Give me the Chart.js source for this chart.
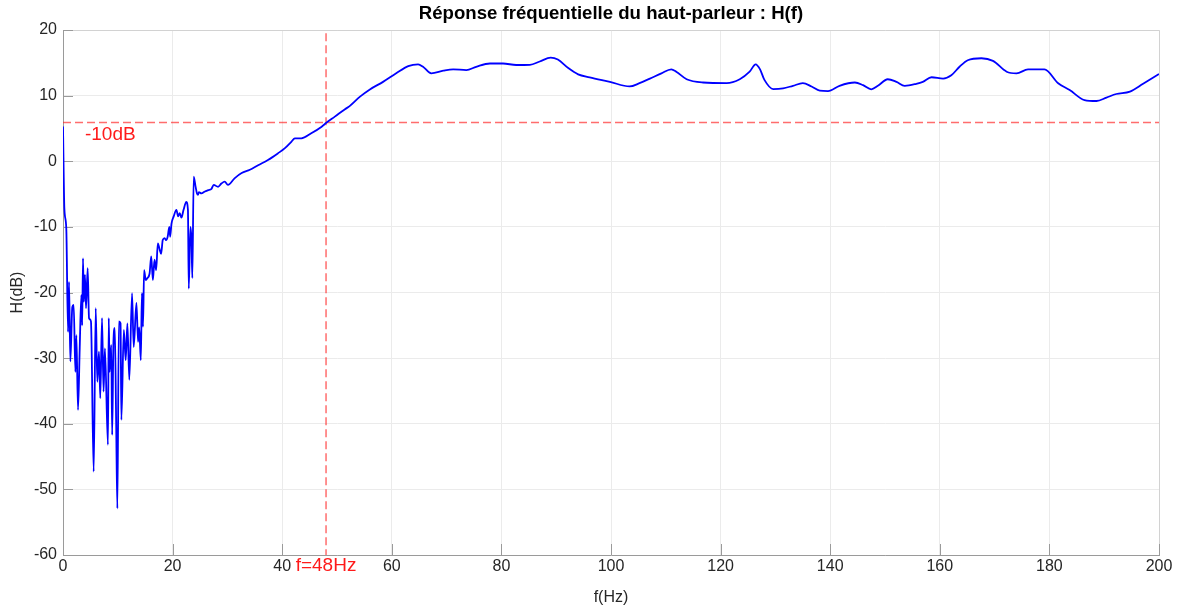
<!DOCTYPE html>
<html lang="fr">
<head>
<meta charset="utf-8">
<title>Réponse fréquentielle</title>
<script src="https://cdn.jsdelivr.net/npm/chart.js@4.4.1/dist/chart.umd.min.js"></script>
<style>
  html, body { margin: 0; padding: 0; background: #fff; }
  #wrap { width: 1183px; height: 612px; }
</style>
</head>
<body>
<div id="wrap"><canvas id="hfChart" width="1183" height="612"></canvas></div>
<script>
// fréquences mesurées (Hz)
const freq = [
  0, 0.25, 0.6, 0.92, 1.1, 1.34, 1.7, 1.95, 2.26, 2.44, 2.74, 3.05, 3.35, 3.5, 3.65, 3.8,
  4.0, 4.2, 4.5, 4.75, 5.1, 5.6, 5.97, 6.26, 6.57, 6.8, 7.12, 7.4, 7.65, 8.2, 8.35, 8.5,
  8.8, 8.97, 9.2, 9.45, 9.7, 9.92, 10.2, 10.5, 10.65, 11.1, 11.44, 11.75, 12.1, 12.6, 12.9,
  13.4, 13.7, 13.9, 14.2, 14.4, 14.6, 14.8, 15.1, 15.4, 15.8, 16.1, 16.4, 16.7, 17.0, 17.3,
  17.65, 17.9, 18.2, 18.55, 18.8, 19.1, 19.4, 19.55, 19.8, 20.2, 20.7, 21.0, 21.3, 21.6,
  22.0, 22.5, 22.8, 22.95, 23.25, 23.45, 23.6, 23.85, 24.2, 24.45, 24.65, 24.8, 25.25,
  25.9, 26.5, 27.1, 27.5, 28.3, 28.9, 29.5, 30.1, 31.3, 32.6, 34.1, 35.6, 37.4, 39.2,
  40.5, 41.7, 42.3, 43.5, 45.3, 47.2, 48.1, 49.6, 51.4, 52.3, 54.2, 56.0, 58.4, 60.8,
  63.0, 64.8, 65.7, 67.2, 69.4, 71.2, 73.6, 75.4, 77.9, 80.3, 82.7, 85.2, 87.0, 89.0,
  90.3, 92.2, 94.0, 96.1, 99.8, 103.4, 105.2, 107.1, 109.2, 111.0, 111.9, 113.8, 116.8,
  121.1, 123.5, 125.3, 126.4, 127.2, 128.0, 129.6, 131.4, 133.2, 135.0, 136.6, 138.1,
  139.6, 141.7, 144.5, 146.0, 147.5, 148.7, 150.5, 152.1, 153.6, 155.7, 156.9, 158.5,
  160.6, 162.1, 163.6, 165.1, 167.6, 169.7, 172.2, 174.0, 176.1, 179.1, 181.6, 183.7,
  186.4, 188.6, 190.4, 192.2, 194.7, 197.1, 200
];

// gain H(f) en dB
const gain = [
  5.3, -7.2, -10.2, -26.0, -18.4, -30.5, -22.2, -21.9, -32.1, -26.5, -37.9, -28.5, -20.4, -25.0, -14.8, -21.4,
  -17.3, -22.4, -16.3, -23.9, -24.4, -47.3, -22.4, -33.6, -29.0, -36.1, -23.9, -35.1, -28.5, -43.2, -23.9, -32.1,
  -28.0, -41.7, -27.7, -25.4, -39.7, -52.9, -24.4, -24.7, -39.4, -25.7, -30.3, -24.7, -33.3, -20.1, -28.3,
  -21.6, -27.5, -25.3, -30.3, -20.1, -25.2, -16.6, -18.1, -17.8, -17.1, -14.5, -18.1, -15.0, -16.6, -12.5,
  -13.5, -14.1, -12.0, -11.7, -12.0, -11.5, -10.0, -11.5, -9.5, -8.4, -7.4, -8.4, -7.9, -8.6,
  -7.4, -6.2, -7.4, -19.4, -10.0, -12.0, -17.8, -2.35, -3.9, -4.9, -5.1, -4.7, -4.9,
  -4.6, -4.4, -4.2, -3.6, -3.9, -3.4, -3.1, -3.6, -2.6, -1.8, -1.3, -0.6, 0.2, 1.2,
  2.0, 3.0, 3.5, 3.5, 4.26, 5.27, 5.9, 6.8, 7.9, 8.4, 9.85, 10.95, 12.1, 13.4,
  14.5, 14.77, 14.4, 13.4, 13.8, 14.0, 13.9, 14.4, 14.9, 14.9, 14.67, 14.7, 15.2, 15.8,
  15.5, 14.2, 13.25, 12.8, 12.1, 11.4, 11.9, 12.6, 13.4, 14.0, 13.65, 12.5, 12.0,
  11.9, 12.5, 13.65, 14.77, 14.0, 12.4, 11.0, 11.1, 11.5, 11.9, 11.4, 10.76,
  10.7, 11.5, 12.0, 11.6, 10.96, 11.5, 12.5, 12.1, 11.5, 11.8, 12.1, 12.8,
  12.6, 13.1, 14.4, 15.4, 15.7, 15.3, 13.65, 13.4, 14.0, 14.0, 11.9, 10.86,
  9.33, 9.18, 9.7, 10.25, 10.6, 11.8, 13.3
];

// fréquence de coupure et niveau à -10 dB du maximum
const cutoffFreq = 48;
const cutoffLevel = 5.9;
const cutoffLabels = ['-10dB', 'f=48Hz'];

const xTicks = [0, 20, 40, 60, 80, 100, 120, 140, 160, 180, 200];
const yTicks = [-60, -50, -40, -30, -20, -10, 0, 10, 20];

const textColor = '#262626';
const fontFamily = '"Liberation Sans", Arial, Helvetica, sans-serif';

// ticks intérieurs façon MATLAB + cadre de l'axe
const axesBox = {
  id: 'axesBox',
  beforeDatasetsDraw(chart) {
    const { ctx, chartArea: a, scales: { x, y } } = chart;
    ctx.save();
    ctx.strokeStyle = '#d2d2d2';
    ctx.lineWidth = 1;
    ctx.beginPath();
    ctx.moveTo(a.left, a.top + 0.5);
    ctx.lineTo(a.right + 0.5, a.top + 0.5);
    ctx.lineTo(a.right + 0.5, a.bottom);
    ctx.stroke();

    ctx.strokeStyle = '#9a9a9a';
    ctx.beginPath();
    yTicks.forEach(v => {
      const py = Math.round(y.getPixelForValue(v)) + 0.5;
      ctx.moveTo(a.left, py);
      ctx.lineTo(a.left + 10, py);
    });
    xTicks.forEach(v => {
      const px = Math.round(x.getPixelForValue(v)) + 0.5;
      ctx.moveTo(px, a.bottom);
      ctx.lineTo(px, a.bottom - 11);
    });
    ctx.stroke();
    ctx.restore();
  },
  afterDatasetsDraw(chart) {
    const { ctx, scales: { x, y } } = chart;
    ctx.save();
    ctx.fillStyle = '#ff1a1a';
    ctx.font = '19px ' + fontFamily;
    ctx.textBaseline = 'middle';
    ctx.textAlign = 'left';
    ctx.fillText(cutoffLabels[0], x.getPixelForValue(4), y.getPixelForValue(cutoffLevel) + 12);
    ctx.textAlign = 'center';
    ctx.fillText(cutoffLabels[1], x.getPixelForValue(cutoffFreq), y.getPixelForValue(-60) + 11);
    ctx.restore();
  }
};

const ctx = document.getElementById('hfChart').getContext('2d');

new Chart(ctx, {
  type: 'line',
  data: {
    datasets: [
      {
        label: 'H(f)',
        data: freq.map((f, i) => ({ x: f, y: gain[i] })),
        borderColor: '#0000ff',
        borderWidth: 1.8,
        pointRadius: 0,
        cubicInterpolationMode: 'monotone',
        order: 1
      },
      {
        label: 'niveau -10 dB',
        data: [{ x: 0, y: cutoffLevel }, { x: 200, y: cutoffLevel }],
        borderColor: 'rgba(255, 30, 30, 0.65)',
        borderWidth: 1.5,
        borderDash: [8, 4],
        pointRadius: 0,
        order: 2
      },
      {
        label: 'fc',
        data: [{ x: cutoffFreq, y: 19.5 }, { x: cutoffFreq, y: -60 }],
        borderColor: 'rgba(255, 30, 30, 0.65)',
        borderWidth: 1.5,
        borderDash: [8, 4],
        pointRadius: 0,
        order: 2
      }
    ]
  },
  options: {
    responsive: false,
    animation: false,
    layout: { padding: { left: 0, right: 24, top: 0, bottom: 0 } },
    plugins: {
      legend: { display: false },
      tooltip: { enabled: false },
      title: {
        display: true,
        fullSize: false,
        text: 'Réponse fréquentielle du haut-parleur : H(f)',
        color: '#000',
        font: { family: fontFamily, size: 18.6, weight: 'bold', lineHeight: 1.2 },
        padding: { top: 3, bottom: 4.7 }
      }
    },
    scales: {
      x: {
        type: 'linear',
        min: 0,
        max: 200,
        afterBuildTicks: s => { s.ticks = xTicks.map(v => ({ value: v })); },
        afterFit: s => { s.height = 57; },
        ticks: {
          color: textColor,
          font: { family: fontFamily, size: 16 },
          padding: 2,
          maxRotation: 0
        },
        grid: { color: '#ebebeb', drawTicks: false },
        border: { display: true, color: '#9a9a9a' },
        title: {
          display: true,
          text: 'f(Hz)',
          color: textColor,
          font: { family: fontFamily, size: 16 },
          padding: { top: 0, bottom: 5 }
        }
      },
      y: {
        min: -60,
        max: 20,
        afterBuildTicks: s => { s.ticks = yTicks.map(v => ({ value: v })); },
        afterFit: s => { s.width = 63; },
        ticks: {
          color: textColor,
          font: { family: fontFamily, size: 16 },
          padding: 6
        },
        grid: { color: '#ebebeb', drawTicks: false },
        border: { display: true, color: '#9a9a9a' },
        title: {
          display: true,
          text: 'H(dB)',
          color: textColor,
          font: { family: fontFamily, size: 16 },
          padding: { top: 8, bottom: 0 }
        }
      }
    }
  },
  plugins: [axesBox]
});
</script>
</body>
</html>
